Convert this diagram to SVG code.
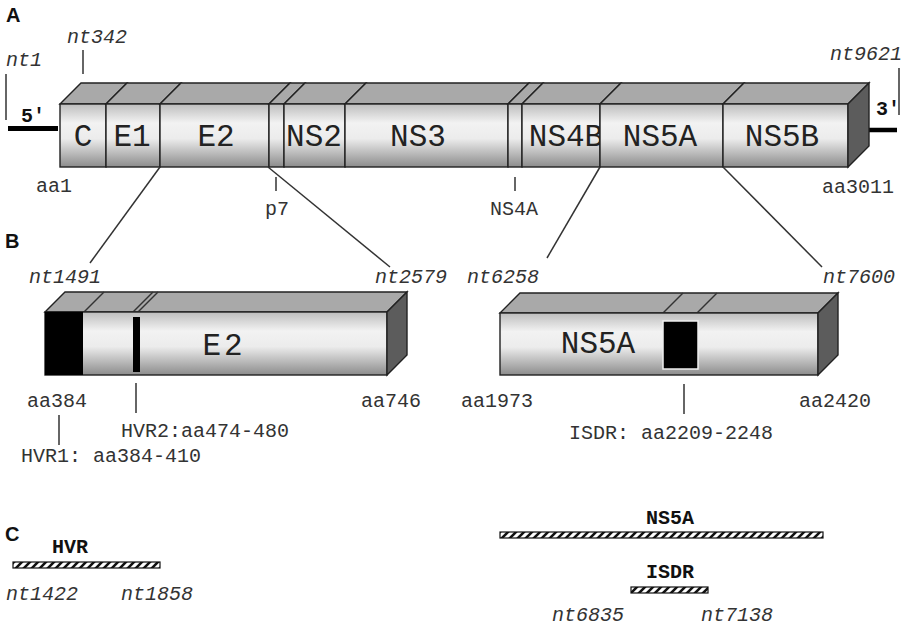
<svg xmlns="http://www.w3.org/2000/svg" width="911" height="629" viewBox="0 0 911 629">
<defs>
<linearGradient id="front" x1="0" y1="0" x2="0" y2="1">
<stop offset="0" stop-color="#bdbdbd"/>
<stop offset="0.3" stop-color="#f2f2f2"/>
<stop offset="0.55" stop-color="#ececec"/>
<stop offset="1" stop-color="#8c8c8c"/>
</linearGradient>
<pattern id="hatch" patternUnits="userSpaceOnUse" width="8" height="8">
<rect width="8" height="8" fill="#fff"/>
<path d="M-2,10 L10,-2 M-6,6 L6,-6 M2,14 L14,2" stroke="#111" stroke-width="2.6"/>
</pattern>
<style>
.fr{fill:url(#front);stroke:#222;stroke-width:1.4}
.tp{fill:#a9a9a9;stroke:#222;stroke-width:1.4}
.sd{fill:#5c5c5c;stroke:#222;stroke-width:1.4}
.blk{fill:#000}
.lbl{font-family:"Liberation Mono","Courier New",monospace;font-size:31px;fill:#222;text-anchor:middle}
.m{font-family:"Liberation Mono","Courier New",monospace;font-size:20px;fill:#333}
.mi{font-family:"Liberation Mono","Courier New",monospace;font-size:20px;fill:#333;font-style:italic}
.mb{font-family:"Liberation Mono","Courier New",monospace;font-size:20px;fill:#111;font-weight:bold}
.sec{font-family:"Liberation Sans",Arial,sans-serif;font-size:20px;font-weight:bold;fill:#111}
.tk{stroke:#333;stroke-width:1.5;fill:none}
.hb{fill:url(#hatch);stroke:#111;stroke-width:1.2}
</style>
</defs>
<rect width="911" height="629" fill="#fff"/>

<!-- section letters -->
<text class="sec" x="6" y="22">A</text>
<text class="sec" x="5" y="248">B</text>
<text class="sec" x="5" y="541">C</text>

<!-- Panel A: genome bar -->
<g id="utr5">
<line x1="8" y1="128.5" x2="58" y2="128.5" stroke="#000" stroke-width="5"/>
<text class="mb" x="21" y="122">5′</text>
</g>
<g id="utr3">
<line x1="856" y1="130" x2="897" y2="130" stroke="#000" stroke-width="4.5"/>
<text class="mb" x="876" y="115">3′</text>
</g>

<g id="seg-C">
<polygon class="tp" points="60,104 81,83 127,83 106,104"/>
<rect class="fr" x="60" y="104" width="46" height="63"/>
<text class="lbl" x="83" y="146">C</text>
</g>
<g id="seg-E1">
<polygon class="tp" points="106,104 127,83 181,83 160,104"/>
<rect class="fr" x="106" y="104" width="54" height="63"/>
<text class="lbl" x="132" y="146">E1</text>
</g>
<g id="seg-E2">
<polygon class="tp" points="160,104 181,83 290,83 269,104"/>
<rect class="fr" x="160" y="104" width="109" height="63"/>
<text class="lbl" x="216" y="146">E2</text>
</g>
<g id="seg-p7">
<polygon class="tp" points="269,104 290,83 305,83 284,104"/>
<rect class="fr" x="269" y="104" width="15" height="63"/>
</g>
<g id="seg-NS2">
<polygon class="tp" points="284,104 305,83 366,83 345,104"/>
<rect class="fr" x="284" y="104" width="61" height="63"/>
<text class="lbl" x="314" y="146">NS2</text>
</g>
<g id="seg-NS3">
<polygon class="tp" points="345,104 366,83 529,83 508,104"/>
<rect class="fr" x="345" y="104" width="163" height="63"/>
<text class="lbl" x="418" y="146">NS3</text>
</g>
<g id="seg-NS4A">
<polygon class="tp" points="508,104 529,83 543,83 522,104"/>
<rect class="fr" x="508" y="104" width="14" height="63"/>
</g>
<g id="seg-NS4B">
<polygon class="tp" points="522,104 543,83 621,83 600,104"/>
<rect class="fr" x="522" y="104" width="78" height="63"/>
<text class="lbl" x="566" y="146">NS4B</text>
</g>
<g id="seg-NS5A">
<polygon class="tp" points="600,104 621,83 744,83 723,104"/>
<rect class="fr" x="600" y="104" width="123" height="63"/>
<text class="lbl" x="660" y="146">NS5A</text>
</g>
<g id="seg-NS5B">
<polygon class="tp" points="723,104 744,83 869,83 848,104"/>
<rect class="fr" x="723" y="104" width="125" height="63"/>
<polygon class="sd" points="848,104 869,83 869,146 848,167"/>
<text class="lbl" x="782" y="146">NS5B</text>
</g>

<!-- Panel B left: E2 detail -->
<g id="box-E2">
<polygon class="tp" points="45,312 65,292 407,292 387,312"/>
<line class="tk" x1="84" y1="312" x2="104" y2="292" stroke="#222"/>
<line class="tk" x1="133" y1="312" x2="153" y2="292" stroke="#222"/>
<line class="tk" x1="138" y1="312" x2="158" y2="292" stroke="#222"/>
<rect class="fr" x="45" y="312" width="342" height="63"/>
<polygon class="sd" points="387,312 407,292 407,355 387,375"/>
<rect class="blk" x="45" y="312" width="38" height="63"/>
<rect class="blk" x="133" y="317" width="7" height="55"/>
<text class="lbl" x="224" y="355" letter-spacing="3">E2</text>
</g>

<!-- Panel B right: NS5A detail -->
<g id="box-NS5A">
<polygon class="tp" points="500,313 520,293 838,293 818,313"/>
<line class="tk" x1="663" y1="313" x2="683" y2="293" stroke="#222"/>
<line class="tk" x1="697" y1="313" x2="717" y2="293" stroke="#222"/>
<rect class="fr" x="500" y="313" width="318" height="62"/>
<polygon class="sd" points="818,313 838,293 838,355 818,375"/>
<rect class="blk" x="663" y="321" width="35" height="48" stroke="#eee" stroke-width="1.5"/>
<text class="lbl" x="598" y="353">NS5A</text>
</g>

<!-- Panel C: hatched bars -->
<g id="bar-HVR">
<rect class="hb" x="13" y="562" width="147" height="6"/>
<text class="mb" x="52" y="553">HVR</text>
</g>
<g id="bar-NS5A">
<rect class="hb" x="500" y="532" width="323" height="6"/>
<text class="mb" x="646" y="524">NS5A</text>
</g>
<g id="bar-ISDR">
<rect class="hb" x="631" y="587" width="77" height="6"/>
<text class="mb" x="646" y="578">ISDR</text>
</g>

<!-- connectors: ticks and zoom lines -->
<g id="connectors">
<line class="tk" x1="6" y1="74" x2="6" y2="120"/>
<line class="tk" x1="83" y1="50" x2="83" y2="74"/>
<line class="tk" x1="899" y1="68" x2="899" y2="115"/>
<line class="tk" x1="276" y1="177" x2="276" y2="191"/>
<line class="tk" x1="515" y1="177" x2="515" y2="191"/>
<line class="tk" x1="160" y1="167" x2="90" y2="263" stroke-width="1.2"/>
<line class="tk" x1="268" y1="167" x2="390" y2="267" stroke-width="1.2"/>
<line class="tk" x1="600" y1="167" x2="547" y2="258" stroke-width="1.2"/>
<line class="tk" x1="723" y1="167" x2="822" y2="267" stroke-width="1.2"/>
<line class="tk" x1="59" y1="415" x2="59" y2="445"/>
<line class="tk" x1="136" y1="383" x2="136" y2="413"/>
<line class="tk" x1="684" y1="384" x2="684" y2="414"/>
</g>

<!-- labels -->
<g id="labels">
<text class="mi" x="6" y="66">nt1</text>
<text class="mi" x="67" y="43">nt342</text>
<text class="mi" x="830" y="60">nt9621</text>
<text class="m" x="36" y="192">aa1</text>
<text class="m" x="822" y="193">aa3011</text>
<text class="m" x="265" y="215">p7</text>
<text class="m" x="490" y="215">NS4A</text>
<text class="mi" x="29" y="283">nt1491</text>
<text class="mi" x="375" y="283">nt2579</text>
<text class="mi" x="467" y="283">nt6258</text>
<text class="mi" x="823" y="283">nt7600</text>
<text class="m" x="27" y="407">aa384</text>
<text class="m" x="361" y="407">aa746</text>
<text class="m" x="461" y="407">aa1973</text>
<text class="m" x="799" y="407">aa2420</text>
<text class="m" x="121" y="437">HVR2:aa474-480</text>
<text class="m" x="21" y="462">HVR1: aa384-410</text>
<text class="m" x="569" y="439">ISDR: aa2209-2248</text>
<text class="mi" x="6" y="600">nt1422</text>
<text class="mi" x="121" y="600">nt1858</text>
<text class="mi" x="552" y="621">nt6835</text>
<text class="mi" x="701" y="621">nt7138</text>
</g>
</svg>
